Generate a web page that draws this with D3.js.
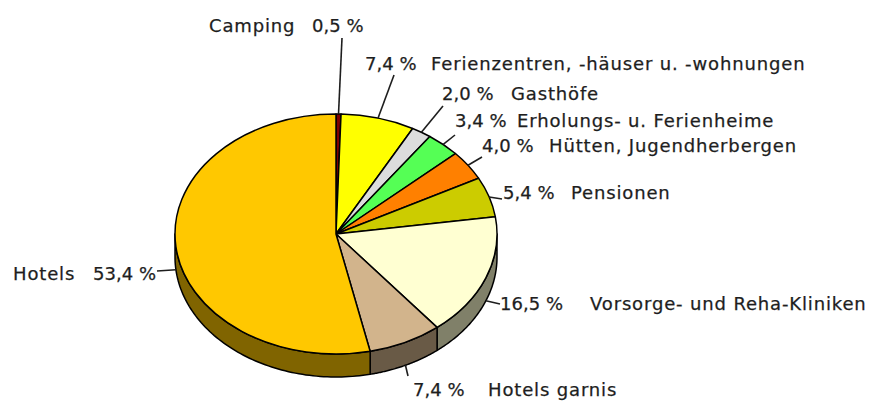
<!DOCTYPE html>
<html>
<head>
<meta charset="utf-8">
<script src="https://cdn.jsdelivr.net/npm/d3@7"></script>
<style>
  html, body { margin: 0; padding: 0; background: #fff; }
  svg { display: block; }
  text { font-family: "DejaVu Sans", sans-serif; font-size: 18px; letter-spacing: 0.85px; fill: #1e1e1e; stroke: #1e1e1e; stroke-width: 0.25px; }
  text.val { letter-spacing: 0.05px; }
</style>
</head>
<body>
<svg id="chart" width="872" height="403"></svg>
<script>
// ---- data ----
const categories = [
  "Camping",
  "Ferienzentren, -häuser u. -wohnungen",
  "Gasthöfe",
  "Erholungs- u. Ferienheime",
  "Hütten, Jugendherbergen",
  "Pensionen",
  "Vorsorge- und Reha-Kliniken",
  "Hotels garnis",
  "Hotels"
];
const values = [0.5, 7.4, 2.0, 3.4, 4.0, 5.4, 16.5, 7.4, 53.4];
const valueLabels = ["0,5 %", "7,4 %", "2,0 %", "3,4 %", "4,0 %", "5,4 %", "16,5 %", "7,4 %", "53,4 %"];
const colors = ["#7f0000", "#ffff00", "#dcdcdc", "#55ff55", "#ff8000", "#cccc00", "#ffffd2", "#d2b48c", "#ffc800"];

// ---- layout (positions only) ----
const cx = 336, cy = 234, rx = 161, ry = 120, depth = 23;
// label anchors: [valueX, nameX, baselineY, leaderStartX, leaderStartY]
const labelLayout = [
  [312, 209, 32, 342, 38],
  [365, 431, 70, 394, 75],
  [442, 511, 100, 443, 106],
  [455, 517, 127, 455, 135],
  [482, 549, 152, 482, 157],
  [503, 571, 199, 502, 199],
  [500, 590, 310, 500, 304],
  [413, 488, 396, 408, 376],
  [93, 13, 280, 157, 271]
];

const svg = d3.select("#chart");
const pie = d3.pie().sort(null).value(d => d).startAngle(0).endAngle(2 * Math.PI);
const arcs = pie(values);

const px = a => cx + rx * Math.sin(a);
const py = a => cy - ry * Math.cos(a);

// ---- side walls ----
const sideG = svg.append("g");
arcs.forEach((d, i) => {
  const a0 = Math.max(d.startAngle, Math.PI / 2);
  const a1 = Math.min(d.endAngle, 3 * Math.PI / 2);
  if (a0 >= a1) return;
  const n = 80;
  const top = d3.range(n + 1).map(k => a0 + (a1 - a0) * k / n);
  const pts = top.map(a => [px(a), py(a)])
    .concat(top.slice().reverse().map(a => [px(a), py(a) + depth]));
  const c = d3.rgb(colors[i]);
  const dark = d3.rgb(c.r * 0.5, c.g * 0.5, c.b * 0.5);
  sideG.append("path")
    .attr("d", d3.line()(pts) + "Z")
    .attr("fill", dark)
    .attr("stroke", "#000")
    .attr("stroke-width", 1.5)
    .attr("stroke-linejoin", "round");
});

// ---- top slices ----
const arcGen = d3.arc().innerRadius(0).outerRadius(rx);
const topG = svg.append("g")
  .attr("transform", `translate(${cx},${cy}) scale(1,${ry / rx})`);
topG.selectAll("path")
  .data(arcs)
  .join("path")
  .attr("d", arcGen)
  .attr("fill", (d, i) => colors[i])
  .attr("stroke", "#000")
  .attr("stroke-width", 1.5)
  .attr("stroke-linejoin", "round")
  .attr("vector-effect", "non-scaling-stroke");

// ---- leaders & labels ----
const labG = svg.append("g");
arcs.forEach((d, i) => {
  const mid = (d.startAngle + d.endAngle) / 2;
  const front = mid > Math.PI / 2 && mid < 3 * Math.PI / 2;
  const ex = px(mid), ey = py(mid) + (front ? depth : 0);
  const L = labelLayout[i];
  labG.append("line")
    .attr("x1", L[3]).attr("y1", L[4])
    .attr("x2", ex).attr("y2", ey)
    .attr("stroke", "#1e1e1e").attr("stroke-width", 1.6);
  labG.append("text").attr("class", "val").attr("x", L[0]).attr("y", L[2]).text(valueLabels[i]);
  labG.append("text").attr("x", L[1]).attr("y", L[2]).text(categories[i]);
});
</script>
</body>
</html>
